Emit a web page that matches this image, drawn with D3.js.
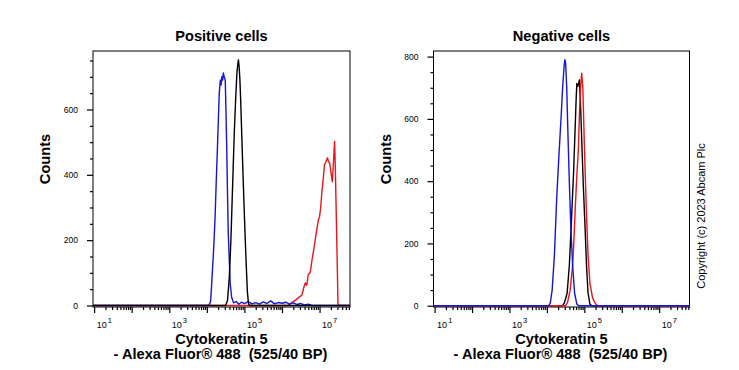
<!DOCTYPE html>
<html lang="en">
<head>
<meta charset="UTF-8">
<title>Cytokeratin 5 flow cytometry</title>
<script src="https://d3js.org/d3.v7.min.js"></script>
<style>
  body { margin: 0; background: #fff; }
  svg { font-family: "Liberation Sans", Arial, sans-serif; }
  .frame { fill: none; stroke: #000; stroke-width: 1; }
  .tick line { stroke: #000; stroke-width: 1.2; }
  .tick text { font-size: 8.5px; fill: #000; }
  .title, .xlab, .ylab { font-weight: bold; font-size: 14.6px; fill: #000; }
  .trace { fill: none; stroke-width: 1.4; stroke-linejoin: round; }
</style>
</head>
<body>
<svg id="chart" width="739" height="370"></svg>
<script>
// x values are log10 of fluorescence, y values are counts
const posBlue = [[0.97,0],[4.05,0],[4.10,12],[4.13,69],[4.18,170],[4.22,272],[4.25,380],[4.28,476],[4.31,580],[4.33,650],[4.36,690],[4.38,675],[4.40,700],[4.42,690],[4.44,712],[4.46,700],[4.49,690],[4.51,590],[4.53,476],[4.55,340],[4.57,222],[4.60,130],[4.62,69],[4.66,25],[4.71,8],[4.78,12],[4.85,4],[4.92,10],[5.0,6],[5.1,12],[5.2,5],[5.3,9],[5.4,4],[5.5,11],[5.6,6],[5.7,14],[5.8,5],[5.9,9],[6.0,7],[6.1,10],[6.2,4],[6.3,8],[6.4,3],[6.5,6],[6.6,2],[6.7,4],[6.8,0],[7.81,0]];
const posBlack = [[0.97,0],[4.50,0],[4.55,15],[4.60,90],[4.64,200],[4.66,272],[4.70,420],[4.73,528],[4.77,640],[4.80,711],[4.82,735],[4.84,752],[4.86,730],[4.88,690],[4.90,629],[4.93,520],[4.97,375],[5.01,240],[5.05,119],[5.08,40],[5.11,5],[5.14,0],[7.81,0]];
const posRed = [[0.97,0],[6.15,0],[6.22,5],[6.30,12],[6.38,18],[6.45,25],[6.53,32],[6.58,55],[6.62,69],[6.66,62],[6.70,95],[6.75,100],[6.80,140],[6.85,175],[6.89,205],[6.93,235],[6.97,262],[7.00,272],[7.03,300],[7.06,345],[7.10,390],[7.13,430],[7.17,440],[7.21,452],[7.24,440],[7.27,436],[7.30,410],[7.34,379],[7.37,440],[7.40,502],[7.42,420],[7.44,303],[7.47,130],[7.49,5],[7.51,0],[7.81,0]];

const negBlue = [[0.97,0],[4.05,0],[4.09,8],[4.14,50],[4.20,160],[4.26,340],[4.32,480],[4.38,607],[4.42,700],[4.46,770],[4.48,790],[4.50,780],[4.53,700],[4.56,560],[4.60,394],[4.64,250],[4.69,125],[4.74,40],[4.80,5],[4.85,0],[7.81,0]];
const negBlack = [[0.97,0],[4.42,0],[4.47,10],[4.54,40],[4.60,130],[4.66,286],[4.71,420],[4.75,555],[4.78,660],[4.80,714],[4.83,705],[4.87,725],[4.90,640],[4.94,500],[4.97,394],[5.02,250],[5.06,125],[5.10,40],[5.15,5],[5.20,0],[7.81,0]];
const negRed = [[0.97,0],[4.50,0],[4.55,10],[4.62,50],[4.68,120],[4.71,179],[4.76,320],[4.80,420],[4.84,500],[4.87,620],[4.90,700],[4.93,747],[4.96,700],[5.00,520],[5.03,400],[5.06,286],[5.10,160],[5.15,72],[5.22,25],[5.30,6],[5.36,0],[7.81,0]];

const posYTicks = [0, 200, 400, 600];
const negYTicks = [0, 200, 400, 600, 800];
const decades = [1, 2, 3, 4, 5, 6, 7];
const labelledDecades = [1, 3, 5, 7];

const svg = d3.select("#chart");

function panel(opt) {
  const g = svg.append("g");
  const x = d3.scaleLog().domain([Math.pow(10, 0.97), Math.pow(10, 7.81)]).range([opt.x0, opt.x1]);
  const y = d3.scaleLinear().domain([0, opt.yMax]).range([opt.yZero, opt.y0]);

  // minor y ticks every 50
  const minorY = d3.range(0, opt.yMax, 50).filter(v => v % 200 !== 0);
  g.append("g").attr("transform", `translate(${opt.x0},0)`)
    .call(d3.axisLeft(y).tickValues(minorY).tickSize(3).tickFormat("").tickSizeOuter(0))
    .call(a => a.select(".domain").remove());
  g.append("g").attr("transform", `translate(${opt.x0},0)`)
    .call(d3.axisLeft(y).tickValues(opt.yTicks).tickSize(6).tickPadding(9).tickFormat(d3.format("d")).tickSizeOuter(0))
    .call(a => a.select(".domain").remove());

  // x ticks: decades and minor
  const minorX = [];
  for (let k = 0; k <= 7; k++) for (let m = 2; m <= 9; m++) {
    const v = m * Math.pow(10, k);
    if (v > x.domain()[0] && v < x.domain()[1]) minorX.push(v);
  }
  g.append("g").attr("transform", `translate(0,${opt.y1})`)
    .call(d3.axisBottom(x).tickValues(minorX).tickSize(3).tickFormat("").tickSizeOuter(0))
    .call(a => a.select(".domain").remove());
  g.append("g").attr("transform", `translate(0,${opt.y1})`)
    .call(d3.axisBottom(x).tickValues(decades.map(d => Math.pow(10, d))).tickSize(6).tickFormat("").tickSizeOuter(0))
    .call(a => a.select(".domain").remove());

  const lab = g.append("g").selectAll("text").data(labelledDecades).join("text")
    .attr("x", d => x(Math.pow(10, d)) + 2.5)
    .attr("y", opt.y1 + 21)
    .attr("font-size", 9);
  lab.append("tspan").text("10");
  lab.append("tspan").attr("font-size", 7.5).attr("dy", -5).attr("dx", 1).text(d => d);

  // frame
  g.append("rect").attr("class", "frame")
    .attr("x", opt.x0).attr("y", opt.y0)
    .attr("width", opt.x1 - opt.x0).attr("height", opt.y1 - opt.y0);

  const line = d3.line().x(d => x(Math.pow(10, d[0]))).y(d => y(d[1]));
  opt.series.forEach(s => {
    g.append("path").attr("class", "trace").attr("stroke", s.color).attr("d", line(s.data));
  });

  const cx = (opt.x0 + opt.x1) / 2;
  g.append("text").attr("class", "title").attr("x", cx).attr("y", 41)
    .attr("text-anchor", "middle").text(opt.title);
  g.append("text").attr("class", "xlab").attr("x", cx).attr("y", 344)
    .attr("text-anchor", "middle").text("Cytokeratin 5");
  g.append("text").attr("class", "xlab").attr("x", cx - 1).attr("y", 359)
    .attr("text-anchor", "middle").style("white-space", "pre")
    .text("- Alexa Fluor\u00AE 488  (525/40 BP)");
  g.append("text").attr("class", "ylab")
    .attr("transform", `translate(${opt.x0 - 43},159) rotate(-90)`)
    .attr("text-anchor", "middle").text("Counts");
}

panel({
  x0: 93, x1: 350, y0: 51, y1: 307, yZero: 305.5, yMax: 779,
  yTicks: posYTicks, title: "Positive cells",
  series: [
    { data: posRed, color: "#e8141c" },
    { data: posBlue, color: "#1515d6" },
    { data: posBlack, color: "#000" }
  ]
});

panel({
  x0: 433.5, x1: 689.5, y0: 51, y1: 307, yZero: 305.7, yMax: 818,
  yTicks: negYTicks, title: "Negative cells",
  series: [
    { data: negBlack, color: "#000" },
    { data: negRed, color: "#e8141c" },
    { data: negBlue, color: "#1515d6" }
  ]
});

svg.append("text")
  .attr("transform", "translate(705,216) rotate(-90)")
  .attr("text-anchor", "middle").attr("font-size", 11).attr("fill", "#000")
  .text("Copyright (c) 2023 Abcam Plc");
</script>
</body>
</html>
